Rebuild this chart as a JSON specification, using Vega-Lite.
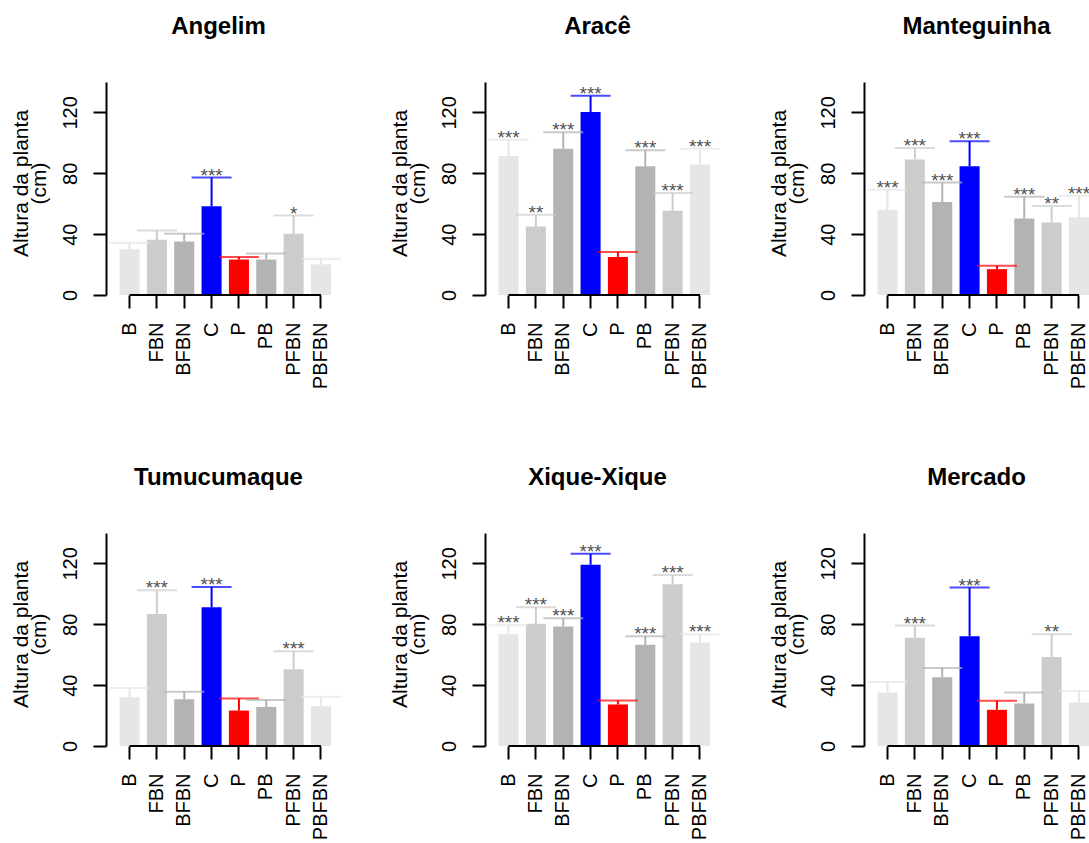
{
  "$schema": "https://vega.github.io/schema/vega-lite/v6.json",
  "padding": {"left": 9, "top": 15, "right": 0, "bottom": 0},
  "background": "white",
  "data": {
    "values": [
      {"site": "Angelim", "trt": "B", "mean": 30.0, "upper": 34.3, "sig": ""},
      {"site": "Angelim", "trt": "FBN", "mean": 36.3, "upper": 42.4, "sig": ""},
      {"site": "Angelim", "trt": "BFBN", "mean": 35.2, "upper": 40.2, "sig": ""},
      {"site": "Angelim", "trt": "C", "mean": 58.3, "upper": 77.2, "sig": "***"},
      {"site": "Angelim", "trt": "P", "mean": 23.3, "upper": 25.0, "sig": ""},
      {"site": "Angelim", "trt": "PB", "mean": 23.3, "upper": 27.2, "sig": ""},
      {"site": "Angelim", "trt": "PFBN", "mean": 40.2, "upper": 52.2, "sig": "*"},
      {"site": "Angelim", "trt": "PBFBN", "mean": 20.2, "upper": 23.9, "sig": ""},
      {"site": "Aracê", "trt": "B", "mean": 91.3, "upper": 102.0, "sig": "***"},
      {"site": "Aracê", "trt": "FBN", "mean": 45.0, "upper": 52.8, "sig": "**"},
      {"site": "Aracê", "trt": "BFBN", "mean": 96.1, "upper": 107.0, "sig": "***"},
      {"site": "Aracê", "trt": "C", "mean": 120.2, "upper": 130.9, "sig": "***"},
      {"site": "Aracê", "trt": "P", "mean": 25.0, "upper": 28.3, "sig": ""},
      {"site": "Aracê", "trt": "PB", "mean": 84.6, "upper": 95.2, "sig": "***"},
      {"site": "Aracê", "trt": "PFBN", "mean": 55.4, "upper": 67.0, "sig": "***"},
      {"site": "Aracê", "trt": "PBFBN", "mean": 85.7, "upper": 96.1, "sig": "***"},
      {"site": "Manteguinha", "trt": "B", "mean": 56.1, "upper": 69.1, "sig": "***"},
      {"site": "Manteguinha", "trt": "FBN", "mean": 89.1, "upper": 96.7, "sig": "***"},
      {"site": "Manteguinha", "trt": "BFBN", "mean": 61.1, "upper": 73.9, "sig": "***"},
      {"site": "Manteguinha", "trt": "C", "mean": 84.6, "upper": 101.1, "sig": "***"},
      {"site": "Manteguinha", "trt": "P", "mean": 17.0, "upper": 19.3, "sig": ""},
      {"site": "Manteguinha", "trt": "PB", "mean": 50.2, "upper": 64.6, "sig": "***"},
      {"site": "Manteguinha", "trt": "PFBN", "mean": 47.6, "upper": 58.5, "sig": "**"},
      {"site": "Manteguinha", "trt": "PBFBN", "mean": 51.1, "upper": 65.2, "sig": "***"},
      {"site": "Tumucumaque", "trt": "B", "mean": 32.1, "upper": 38.2, "sig": ""},
      {"site": "Tumucumaque", "trt": "FBN", "mean": 86.8, "upper": 102.3, "sig": "***"},
      {"site": "Tumucumaque", "trt": "BFBN", "mean": 30.8, "upper": 35.6, "sig": ""},
      {"site": "Tumucumaque", "trt": "C", "mean": 91.2, "upper": 104.5, "sig": "***"},
      {"site": "Tumucumaque", "trt": "P", "mean": 23.3, "upper": 31.2, "sig": ""},
      {"site": "Tumucumaque", "trt": "PB", "mean": 25.7, "upper": 30.3, "sig": ""},
      {"site": "Tumucumaque", "trt": "PFBN", "mean": 50.4, "upper": 62.2, "sig": "***"},
      {"site": "Tumucumaque", "trt": "PBFBN", "mean": 26.2, "upper": 32.3, "sig": ""},
      {"site": "Xique-Xique", "trt": "B", "mean": 73.5, "upper": 79.4, "sig": "***"},
      {"site": "Xique-Xique", "trt": "FBN", "mean": 80.3, "upper": 91.2, "sig": "***"},
      {"site": "Xique-Xique", "trt": "BFBN", "mean": 78.5, "upper": 84.0, "sig": "***"},
      {"site": "Xique-Xique", "trt": "C", "mean": 119.1, "upper": 126.3, "sig": "***"},
      {"site": "Xique-Xique", "trt": "P", "mean": 27.3, "upper": 29.9, "sig": ""},
      {"site": "Xique-Xique", "trt": "PB", "mean": 66.5, "upper": 72.2, "sig": "***"},
      {"site": "Xique-Xique", "trt": "PFBN", "mean": 106.3, "upper": 112.4, "sig": "***"},
      {"site": "Xique-Xique", "trt": "PBFBN", "mean": 68.1, "upper": 73.5, "sig": "***"},
      {"site": "Mercado", "trt": "B", "mean": 35.1, "upper": 42.1, "sig": ""},
      {"site": "Mercado", "trt": "FBN", "mean": 71.1, "upper": 79.2, "sig": "***"},
      {"site": "Mercado", "trt": "BFBN", "mean": 45.2, "upper": 51.3, "sig": ""},
      {"site": "Mercado", "trt": "C", "mean": 72.2, "upper": 104.1, "sig": "***"},
      {"site": "Mercado", "trt": "P", "mean": 23.8, "upper": 29.7, "sig": ""},
      {"site": "Mercado", "trt": "PB", "mean": 27.9, "upper": 35.1, "sig": ""},
      {"site": "Mercado", "trt": "PFBN", "mean": 58.5, "upper": 73.5, "sig": "**"},
      {"site": "Mercado", "trt": "PBFBN", "mean": 28.6, "upper": 36.2, "sig": ""}
    ]
  },
  "facet": {
    "field": "site",
    "type": "nominal",
    "sort": ["Angelim", "Aracê", "Manteguinha", "Tumucumaque", "Xique-Xique", "Mercado"],
    "title": null,
    "header": {
      "labelFontSize": 24,
      "labelFontWeight": "bold",
      "labelFont": "Liberation Sans",
      "labelColor": "black",
      "labelPadding": 43
    }
  },
  "columns": 3,
  "spacing": {"row": 77, "column": 47},
  "resolve": {"axis": {"x": "independent", "y": "independent"}},
  "spec": {
    "width": 225,
    "height": 213,
    "encoding": {
      "x": {
        "field": "trt",
        "type": "nominal",
        "sort": ["B", "FBN", "BFBN", "C", "P", "PB", "PFBN", "PBFBN"],
        "scale": {"paddingInner": 0.267, "paddingOuter": 0.247, "align": 1},
        "axis": {
          "title": null,
          "domain": false,
          "labelAngle": -90,
          "labelAlign": "right",
          "labelBaseline": "middle",
          "labelFontSize": 20,
          "labelPadding": 14,
          "tickSize": 13,
          "tickWidth": 2,
          "tickColor": "black",
          "labelColor": "black"
        }
      }
    },
    "layer": [
      {
        "mark": {"type": "bar"},
        "encoding": {
          "y": {
            "field": "mean",
            "type": "quantitative",
            "scale": {"domain": [0, 140], "nice": false},
            "axis": {
              "title": ["Altura da planta", "(cm)"],
              "titleFontSize": 21,
              "titleFontWeight": "normal",
              "titleColor": "black",
              "titleAngle": -90,
              "titleAlign": "center",
              "titleBaseline": "alphabetic",
              "titleLineHeight": 18,
              "titleX": -79,
              "titleY": 101,
              "values": [0, 20, 40, 60, 80, 100, 120, 140],
              "labelExpr": "datum.value % 40 == 0 ? datum.label : ''",
              "labelAngle": -90,
              "labelAlign": "center",
              "labelBaseline": "alphabetic",
              "labelFontSize": 20,
              "labelPadding": 17,
              "labelColor": "black",
              "tickSize": 13,
              "tickWidth": 2,
              "tickColor": "black",
              "domainWidth": 2,
              "domainColor": "black",
              "grid": false
            }
          },
          "color": {
            "field": "trt",
            "type": "nominal",
            "scale": {
              "domain": ["B", "FBN", "BFBN", "C", "P", "PB", "PFBN", "PBFBN"],
              "range": ["#e6e6e6", "#cccccc", "#b3b3b3", "#0000ff", "#ff0000", "#b3b3b3", "#cccccc", "#e6e6e6"]
            },
            "legend": null
          }
        }
      },
      {
        "mark": {"type": "rule", "strokeWidth": 2},
        "encoding": {
          "y": {"field": "mean", "type": "quantitative"},
          "y2": {"field": "upper"},
          "color": {"field": "trt", "type": "nominal"}
        }
      },
      {
        "mark": {"type": "tick", "orient": "horizontal", "size": 40, "thickness": 2},
        "encoding": {
          "y": {"field": "upper", "type": "quantitative"},
          "color": {"field": "trt", "type": "nominal"}
        }
      },
      {
        "mark": {"type": "text", "baseline": "alphabetic", "dy": 4, "fontSize": 19, "color": "#505050"},
        "encoding": {
          "y": {"field": "upper", "type": "quantitative"},
          "text": {"field": "sig"}
        }
      },
      {
        "mark": {"type": "line", "color": "black", "strokeWidth": 2},
        "encoding": {
          "y": {"datum": 0, "type": "quantitative"}
        }
      }
    ]
  },
  "config": {
    "view": {"stroke": null},
    "font": "Liberation Sans"
  }
}
